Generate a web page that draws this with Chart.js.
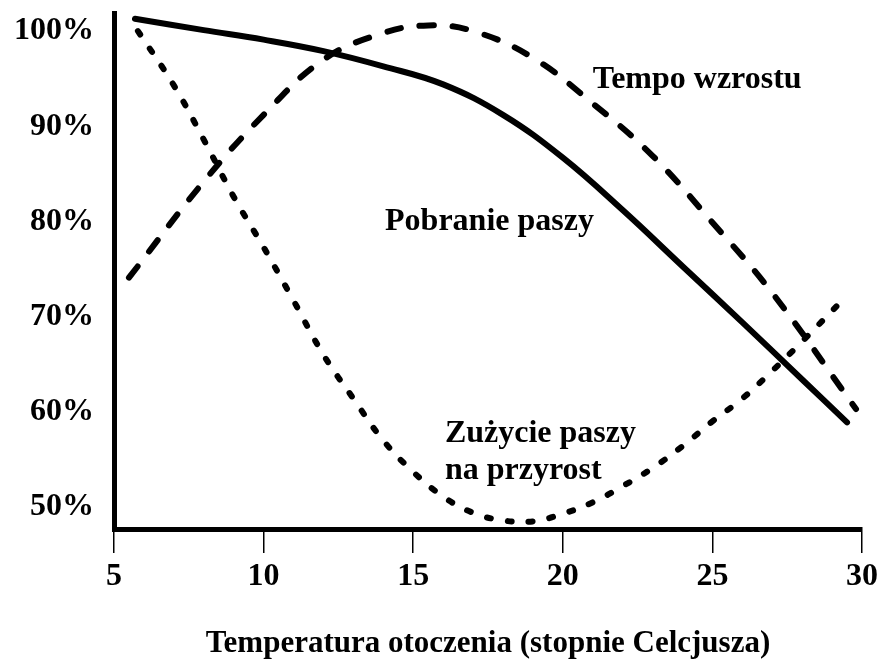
<!DOCTYPE html>
<html>
<head>
<meta charset="utf-8">
<script src="https://cdn.jsdelivr.net/npm/chart.js@4/dist/chart.umd.min.js"></script>
<style>
  body { margin: 0; background: #fff; }
</style>
</head>
<body>
<canvas id="myChart" width="879" height="667"></canvas>
<script>
const canvas = document.getElementById('myChart');

// temperature (x) and percentage (y)
const intakeTemps = [5.7, 8, 10, 12, 14, 16, 18, 20, 22, 24, 26, 28, 29.5];
const intakeValues = [101.3, 100.1, 99.1, 97.9, 96.3, 94.4, 91.2, 86.7, 81.2, 75.3, 69.4, 63.4, 58.9];

const growthTemps = [5.5, 8, 10, 12, 14, 15.5, 17, 19, 21, 23, 25, 27, 29.8];
const growthValues = [74.1, 84.2, 91.2, 97.0, 99.8, 100.6, 100.0, 97.2, 92.4, 86.9, 79.9, 72.5, 60.3];

const convTemps = [5.8, 7, 8, 9, 10, 11, 12, 13, 14, 15, 16, 17, 18, 19, 20, 21, 22, 23, 24, 25, 26, 27, 28, 29.4];
const convValues = [100.0, 94.3, 88.6, 82.6, 77.3, 71.7, 66.0, 61.4, 57.0, 53.7, 51.1, 49.4, 48.6, 48.5, 49.3, 50.5, 52.2, 54.1, 56.4, 59.0, 61.4, 64.3, 67.4, 71.9];

const seriesNames = ['Pobranie paszy', 'Tempo wzrostu', 'Zużycie paszy na przyrost'];
const xTicks = [5, 10, 15, 20, 25, 30];
const yTicks = [50, 60, 70, 80, 90, 100];
const xTitle = 'Temperatura otoczenia (stopnie Celcjusza)';

const toPoints = (xs, ys) => xs.map((x, i) => ({ x: x, y: ys[i] }));

const serif = "'Liberation Serif', 'Times New Roman', serif";

// curve names written next to the lines, anchored in data units
const curveLabels = {
    id: 'curveLabels',
    afterDatasetsDraw(chart, args, opts) {
        const { ctx, scales: { x, y } } = chart;
        ctx.save();
        ctx.font = 'bold 32px ' + serif;
        ctx.fillStyle = '#000';
        ctx.textAlign = 'left';
        ctx.textBaseline = 'middle';
        opts.items.forEach(item => {
            ctx.fillText(item.text, x.getPixelForValue(item.x), y.getPixelForValue(item.y));
        });
        ctx.restore();
    }
};

const line = {
    pointRadius: 0,
    borderColor: '#000',
    borderWidth: 6,
    borderCapStyle: 'round',
    borderJoinStyle: 'round',
    tension: 0.4,
    fill: false,
    showLine: true
};

new Chart(canvas, {
    type: 'scatter',
    data: {
        datasets: [
            { ...line, label: seriesNames[0], data: toPoints(intakeTemps, intakeValues) },
            { ...line, label: seriesNames[1], data: toPoints(growthTemps, growthValues), borderDash: [14, 19] },
            { ...line, label: seriesNames[2], data: toPoints(convTemps, convValues), borderDash: [4, 17] }
        ]
    },
    plugins: [curveLabels],
    options: {
        responsive: false,
        animation: false,
        clip: false,
        layout: { padding: { left: 0, top: 13, right: 17, bottom: 0 } },
        plugins: {
            legend: { display: false },
            tooltip: { enabled: false },
            curveLabels: {
                items: [
                    { text: 'Tempo wzrostu', x: 21.0, y: 94.85 },
                    { text: 'Pobranie paszy', x: 14.06, y: 80.0 },
                    { text: 'Zużycie paszy', x: 16.06, y: 57.7 },
                    { text: 'na przyrost', x: 16.06, y: 53.8 }
                ]
            }
        },
        scales: {
            x: {
                type: 'linear',
                min: 5,
                max: 30,
                afterBuildTicks: s => { s.ticks = xTicks.map(v => ({ value: v })); },
                afterFit: s => { s.height = 138; s.paddingLeft = 0; s.paddingRight = 0; },
                grid: {
                    display: true,
                    drawOnChartArea: false,
                    drawTicks: true,
                    tickLength: 24,
                    color: '#000',
                    lineWidth: 1.5
                },
                border: { display: true, color: '#000', width: 5 },
                ticks: {
                    color: '#000',
                    padding: 5,
                    maxRotation: 0,
                    font: { family: serif, size: 32, weight: 'bold' }
                },
                title: {
                    display: true,
                    text: xTitle,
                    color: '#000',
                    padding: { top: 0, bottom: 4 },
                    font: { family: serif, size: 31, weight: 'bold' }
                }
            },
            y: {
                type: 'linear',
                min: 47.7,
                max: 101.9,
                afterBuildTicks: s => { s.ticks = yTicks.map(v => ({ value: v })); },
                afterFit: s => { s.width = 114; s.paddingTop = 0; s.paddingBottom = 0; },
                grid: { display: false, drawTicks: false },
                border: { display: true, color: '#000', width: 5 },
                ticks: {
                    color: '#000',
                    padding: 20,
                    font: { family: serif, size: 32, weight: 'bold' },
                    callback: v => v + '%'
                }
            }
        }
    }
});
</script>
</body>
</html>
